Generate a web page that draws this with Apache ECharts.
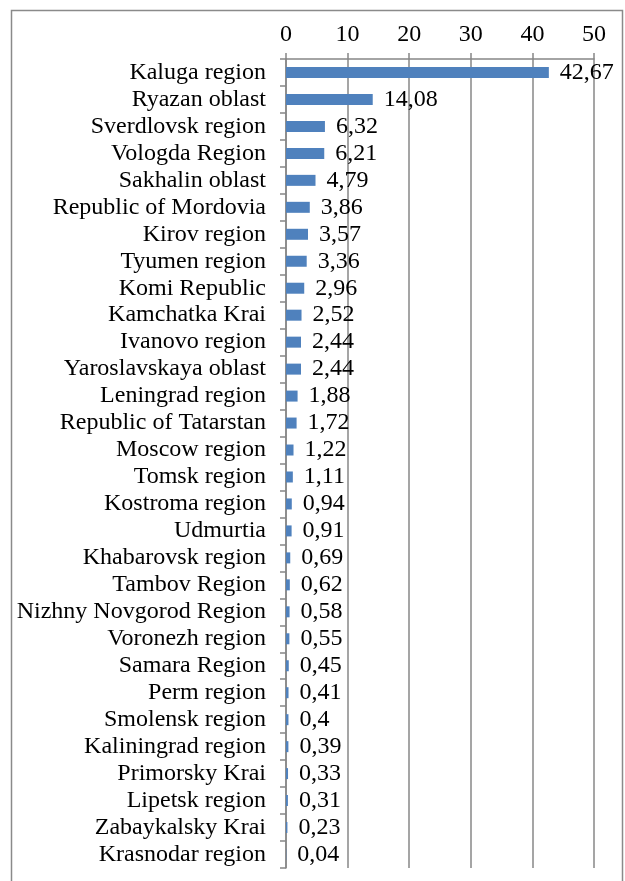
<!DOCTYPE html>
<html>
<head>
<meta charset="utf-8">
<script src="https://cdn.jsdelivr.net/npm/echarts@6/dist/echarts.min.js"></script>
<style>
  html, body { margin: 0; padding: 0; background: #fff; }
  #main { width: 625px; height: 881px; }
</style>
</head>
<body>
<div id="main"></div>
<script>
const regions = [
    'Kaluga region', 'Ryazan oblast', 'Sverdlovsk region', 'Vologda Region',
    'Sakhalin oblast', 'Republic of Mordovia', 'Kirov region', 'Tyumen region',
    'Komi Republic', 'Kamchatka Krai', 'Ivanovo region', 'Yaroslavskaya oblast',
    'Leningrad region', 'Republic of Tatarstan', 'Moscow region', 'Tomsk region',
    'Kostroma region', 'Udmurtia', 'Khabarovsk region', 'Tambov Region',
    'Nizhny Novgorod Region', 'Voronezh region', 'Samara Region', 'Perm region',
    'Smolensk region', 'Kaliningrad region', 'Primorsky Krai', 'Lipetsk region',
    'Zabaykalsky Krai', 'Krasnodar region'
];
const values = [
    42.67, 14.08, 6.32, 6.21, 4.79, 3.86, 3.57, 3.36, 2.96, 2.52,
    2.44, 2.44, 1.88, 1.72, 1.22, 1.11, 0.94, 0.91, 0.69, 0.62,
    0.58, 0.55, 0.45, 0.41, 0.4, 0.39, 0.33, 0.31, 0.23, 0.04
];
const xMin = 0, xMax = 50, xStep = 10;

const font = 'Liberation Serif';
const gray = '#878787';

let myChart = echarts.init(document.getElementById('main'));

let option = {
    animation: false,
    graphic: [{
        type: 'rect',
        shape: {x: 11.5, y: 10.5, width: 611, height: 880},
        style: {fill: 'none', stroke: '#8a8a8a', lineWidth: 1.5}
    }],
    grid: {
        left: 286,
        top: 59,
        right: 31,
        bottom: 13
    },
    xAxis: {
        type: 'value',
        position: 'top',
        min: xMin,
        max: xMax,
        interval: xStep,
        axisLine: {show: true, lineStyle: {color: gray, width: 1.5}},
        axisTick: {show: true, length: 6, lineStyle: {color: gray, width: 1.5}},
        axisLabel: {
            margin: 12,
            color: '#000',
            fontFamily: font,
            fontSize: 24
        },
        splitLine: {show: true, lineStyle: {color: gray, width: 1.5}}
    },
    yAxis: {
        type: 'category',
        inverse: true,
        data: regions,
        axisLine: {show: true, lineStyle: {color: gray, width: 1.5}},
        axisTick: {show: true, length: 6, lineStyle: {color: gray, width: 1.5}},
        axisLabel: {
            interval: 0,
            margin: 20,
            color: '#000',
            fontFamily: font,
            fontSize: 24
        }
    },
    series: [{
        type: 'bar',
        data: values,
        barWidth: 11,
        itemStyle: {color: '#4f81bd'},
        label: {
            show: true,
            position: 'right',
            distance: 11,
            color: '#000',
            fontFamily: font,
            fontSize: 24,
            formatter: function(p) {
                return String(p.value).replace('.', ',');
            }
        }
    }]
};
myChart.setOption(option);
</script>
</body>
</html>
